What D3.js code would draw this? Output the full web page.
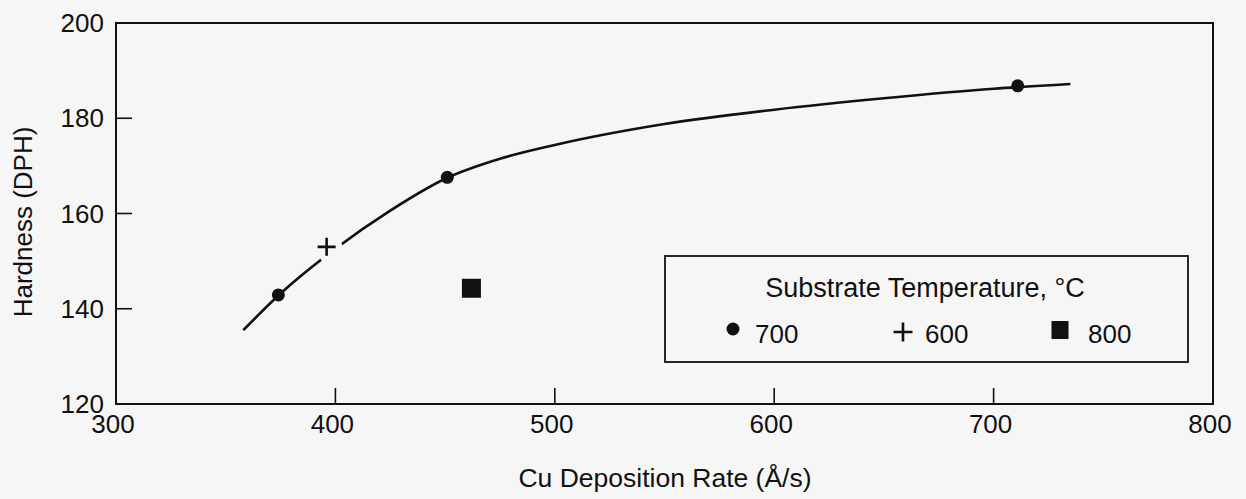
<!DOCTYPE html>
<html>
<head>
<meta charset="utf-8">
<script src="https://cdn.jsdelivr.net/npm/d3@7"></script>
<style>
    body { margin: 0; background: #f6f6f6; }
    svg { display: block; font-family: "Liberation Sans", Arial, sans-serif; }
</style>
</head>
<body>
<svg id="chart" width="1246" height="499"></svg>
<script>
// measured points, by substrate temperature
const temp700 = [[374, 142.9], [451, 167.6], [711, 186.8]];
const temp600 = [[396, 153.0]];
const temp800 = [[462, 144.3]];
// fitted curve as drawn in the figure
const curve = [[358, 135.5], [375, 143.2], [400, 152.6], [425, 160.6], [451, 167.5], [475, 171.5],
    [500, 174.4], [550, 178.8], [600, 181.8], [650, 184.2], [700, 186.2], [735, 187.2]];
const xTicks = [300, 400, 500, 600, 700, 800];
const yTicks = [120, 140, 160, 180, 200];
const legendItems = [["700", "dot"], ["600", "plus"], ["800", "square"]];

const svg = d3.select("#chart");
const margin = { left: 116, top: 23, right: 1213, bottom: 404 };

const x = d3.scaleLinear().domain([300, 800]).range([margin.left, margin.right]);
const y = d3.scaleLinear().domain([120, 200]).range([margin.bottom, margin.top]);
const tickLen = 16;

// frame
svg.append("rect")
    .attr("x", margin.left).attr("y", margin.top)
    .attr("width", margin.right - margin.left)
    .attr("height", margin.bottom - margin.top)
    .attr("fill", "none").attr("stroke", "#111").attr("stroke-width", 2);

// inward ticks (skip the corners)
svg.append("g").selectAll("line")
    .data(xTicks.slice(1, -1)).enter().append("line")
    .attr("x1", (d) => x(d)).attr("x2", (d) => x(d))
    .attr("y1", margin.bottom).attr("y2", margin.bottom - tickLen)
    .attr("stroke", "#111").attr("stroke-width", 1.6);
svg.append("g").selectAll("line")
    .data(yTicks.slice(1, -1)).enter().append("line")
    .attr("x1", margin.left).attr("x2", margin.left + tickLen)
    .attr("y1", (d) => y(d)).attr("y2", (d) => y(d))
    .attr("stroke", "#111").attr("stroke-width", 1.6);

// tick labels
svg.append("g").selectAll("text")
    .data(xTicks).enter().append("text")
    .attr("x", (d) => x(d) - 3).attr("y", 433)
    .attr("text-anchor", "middle").attr("font-size", 26).attr("fill", "#111")
    .text((d) => d);
svg.append("g").selectAll("text")
    .data(yTicks).enter().append("text")
    .attr("x", 104).attr("y", (d) => y(d) + 9)
    .attr("text-anchor", "end").attr("font-size", 26).attr("fill", "#111")
    .text((d) => d);

// axis titles
svg.append("text")
    .attr("x", 665).attr("y", 487)
    .attr("text-anchor", "middle").attr("font-size", 26.5).attr("fill", "#111")
    .text("Cu Deposition Rate (Å/s)");
svg.append("text")
    .attr("transform", "translate(32,222) rotate(-90)")
    .attr("text-anchor", "middle").attr("font-size", 26).attr("fill", "#111")
    .text("Hardness (DPH)");

// curve
const line = d3.line().x((d) => x(d[0])).y((d) => y(d[1])).curve(d3.curveMonotoneX);
svg.append("path")
    .attr("d", line(curve))
    .attr("fill", "none").attr("stroke", "#111").attr("stroke-width", 2.6);

function plus(g, cx, cy, s, halo) {
    if (halo) {
        g.append("path")
            .attr("d", `M${cx - s},${cy}H${cx + s}M${cx},${cy - s}V${cy + s}`)
            .attr("stroke", "#f6f6f6").attr("stroke-width", 14).attr("stroke-linecap", "round");
    }
    g.append("path")
        .attr("d", `M${cx - s},${cy}H${cx + s}M${cx},${cy - s}V${cy + s}`)
        .attr("stroke", "#111").attr("stroke-width", 2.6);
}

// markers
svg.append("g").selectAll("circle")
    .data(temp700).enter().append("circle")
    .attr("cx", (d) => x(d[0])).attr("cy", (d) => y(d[1]))
    .attr("r", 6.5).attr("fill", "#111");
const plusG = svg.append("g");
temp600.forEach((d) => plus(plusG, x(d[0]), y(d[1]), 9, true));
svg.append("g").selectAll("rect")
    .data(temp800).enter().append("rect")
    .attr("x", (d) => x(d[0]) - 9.5).attr("y", (d) => y(d[1]) - 9.5)
    .attr("width", 19).attr("height", 19).attr("fill", "#111");

// legend
const lg = svg.append("g");
lg.append("rect")
    .attr("x", 665).attr("y", 256).attr("width", 523).attr("height", 106)
    .attr("fill", "#f6f6f6").attr("stroke", "#111").attr("stroke-width", 1.8);
lg.append("text")
    .attr("x", 925).attr("y", 297)
    .attr("text-anchor", "middle").attr("font-size", 27).attr("fill", "#111")
    .text("Substrate Temperature, °C");
const legendX = [733, 903, 1060];
legendItems.forEach(([label, shape], i) => {
    const cx = legendX[i], cy = 330;
    if (shape === "dot") {
        lg.append("circle").attr("cx", cx).attr("cy", cy - 1).attr("r", 6.5).attr("fill", "#111");
    } else if (shape === "plus") {
        plus(lg, cx, cy + 2, 9.5, false);
    } else {
        lg.append("rect").attr("x", cx - 8.5).attr("y", cy - 9).attr("width", 17).attr("height", 18).attr("fill", "#111");
    }
    lg.append("text")
        .attr("x", cx + (shape === "square" ? 28 : 22)).attr("y", 343)
        .attr("font-size", 26).attr("fill", "#111")
        .text(label);
});
</script>
</body>
</html>
